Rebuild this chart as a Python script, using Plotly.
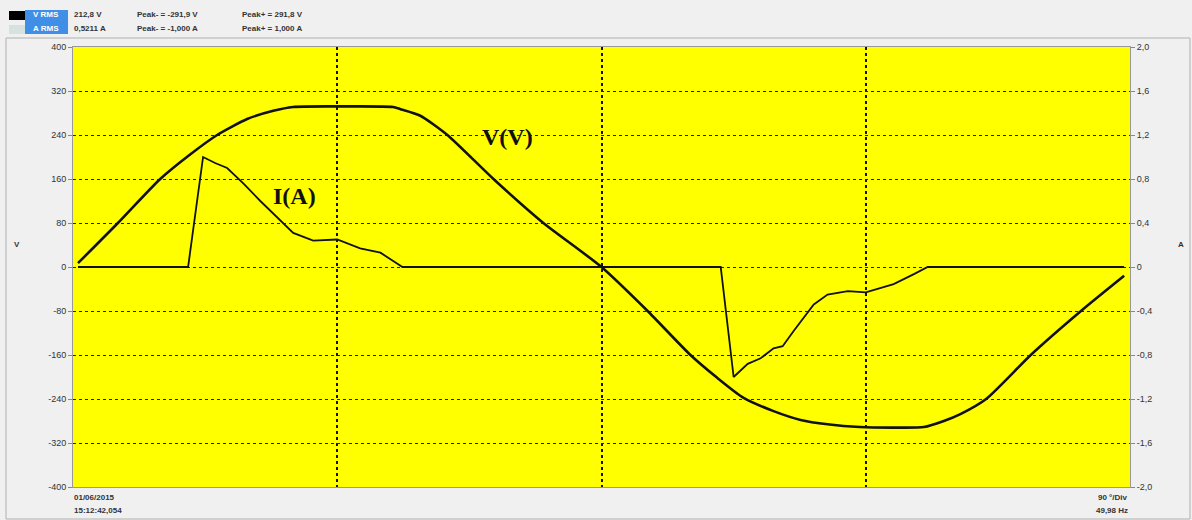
import plotly.graph_objects as go

# Phase angle (degrees) and voltage samples of the clipped sine
v_deg = [1.7, 15.3, 29.7, 40.0, 49.1, 59.3, 68.2, 75.0, 90.0, 109.0, 111.5, 118.3, 127.5,
         143.2, 160.2, 180.0, 195.7, 210.3, 219.3, 228.4, 238.6, 247.8, 257.0, 268.0,
         280.0, 289.8, 296.6, 302.4, 311.0, 326.2, 343.3, 358.0]
v_val = [7, 80, 160, 205, 240, 269, 284, 291, 292, 291, 287, 275, 240,
         160, 80, 0, -80, -160, -201, -238, -262, -278, -286, -291,
         -292, -291, -280, -267, -240, -160, -80, -16]

# Phase angle (degrees) and current samples (pulsed rectifier current)
i_deg = [1.7, 39.2, 44.3, 45.7, 48.4, 52.5, 58.0, 63.8, 69.5, 75.0, 81.8, 90.0,
         97.8, 104.7, 110.5, 112.2, 220.6, 225.0, 229.8, 234.2, 238.6, 241.7,
         245.5, 252.3, 257.0, 263.9, 270.0, 279.5, 286.4, 291.1, 358.0]
i_amp = [0, 0, 1.0, 0.98, 0.945, 0.90, 0.76, 0.60, 0.45, 0.31, 0.24, 0.25,
         0.17, 0.13, 0.03, 0, 0, -1.0, -0.88, -0.83, -0.74, -0.72,
         -0.58, -0.34, -0.25, -0.22, -0.23, -0.155, -0.065, 0, 0]

v_ticks = [400, 320, 240, 160, 80, 0, -80, -160, -240, -320, -400]
v_ticktext = ["400", "320", "240", "160", "80", "0", "-80", "-160", "-240", "-320", "-400"]
i_ticks = [2.0, 1.6, 1.2, 0.8, 0.4, 0, -0.4, -0.8, -1.2, -1.6, -2.0]
i_ticktext = ["2,0", "1,6", "1,2", "0,8", "0,4", "0", "-0,4", "-0,8", "-1,2", "-1,6", "-2,0"]

header_rows = [
    ("V RMS", "212,8 V", "Peak- = -291,9 V", "Peak+ = 291,8 V"),
    ("A RMS", "0,5211 A", "Peak- = -1,000 A", "Peak+ = 1,000 A"),
]

W, H = 1192, 520
L, R, T, B = 73, 1130, 47, 487


def px(x):
    return (x - L) / (R - L)


def py(y):
    return (B - y) / (B - T)


fig = go.Figure()
fig.add_trace(go.Scatter(x=v_deg, y=v_val, mode="lines", name="V(V)",
                         line=dict(color="#111", width=2.6, shape="spline", smoothing=0.6)))
fig.add_trace(go.Scatter(x=i_deg, y=i_amp, mode="lines", name="I(A)", yaxis="y2",
                         line=dict(color="#111", width=1.8)))

tickfont = dict(family="Liberation Sans, Arial", size=9, color="#333")
small = dict(family="Liberation Sans, Arial", size=8, color="#333")

fig.update_layout(
    width=W, height=H,
    margin=dict(l=L, r=W - R, t=T, b=H - B),
    paper_bgcolor="#f0f0f0",
    plot_bgcolor="#ffff00",
    showlegend=False,
    xaxis=dict(range=[0, 360], tickvals=[90, 180, 270], showticklabels=False,
               showgrid=True, gridcolor="#111", griddash="dot", gridwidth=1.6,
               zeroline=False, showline=True, linecolor="#999", mirror=True, ticks=""),
    yaxis=dict(range=[-400, 400], tickvals=v_ticks, ticktext=v_ticktext,
               showgrid=True, gridcolor="#222", griddash="dot", gridwidth=1.3,
               zeroline=False, showline=True, linecolor="#999",
               ticks="outside", ticklen=4, tickcolor="#888", tickfont=tickfont),
    yaxis2=dict(range=[-2, 2], tickvals=i_ticks, ticktext=i_ticktext, overlaying="y",
                side="right", showgrid=False, zeroline=False, showline=True, linecolor="#999",
                ticks="outside", ticklen=4, tickcolor="#888", tickfont=tickfont),
)

shapes = [
    # outer panel frame
    dict(type="rect", xref="paper", yref="paper", x0=px(6), x1=px(1190), y0=py(519), y1=py(38),
         line=dict(color="#b0b0b0", width=1), layer="below"),
    # legend swatches
    dict(type="rect", xref="paper", yref="paper", x0=px(9), x1=px(25), y0=py(20), y1=py(11),
         fillcolor="#000", line=dict(width=0)),
    dict(type="rect", xref="paper", yref="paper", x0=px(9), x1=px(25), y0=py(34), y1=py(25),
         fillcolor="#d6e2e0", line=dict(width=0)),
    dict(type="rect", xref="paper", yref="paper", x0=px(25), x1=px(68), y0=py(34), y1=py(10),
         fillcolor="#3f8fe6", line=dict(width=0)),
]
fig.update_layout(shapes=shapes)

annotations = []
for row, (lab, rms, pk_lo, pk_hi) in enumerate(header_rows):
    yc = py(15 + 14 * row)
    annotations.append(dict(x=px(46), y=yc, text="<b>" + lab + "</b>", showarrow=False,
                            xref="paper", yref="paper", xanchor="center", yanchor="middle",
                            font=dict(family="Liberation Sans, Arial", size=8, color="#ffffff")))
    for xpos, txt in ((72, rms), (135, pk_lo), (240, pk_hi)):
        annotations.append(dict(x=px(xpos), y=yc, text="<b>" + txt + "</b>", showarrow=False,
                                xref="paper", yref="paper", xanchor="left", yanchor="middle",
                                font=small))

annotations += [
    dict(x=148, y=236, xref="x", yref="y", text="<b>V(V)</b>", showarrow=False,
         font=dict(family="Liberation Serif, Times New Roman", size=24, color="#111")),
    dict(x=75.5, y=130, xref="x", yref="y", text="<b>I(A)</b>", showarrow=False,
         font=dict(family="Liberation Serif, Times New Roman", size=24, color="#111")),
    dict(x=px(12), y=py(244), xref="paper", yref="paper", text="<b>V</b>", showarrow=False,
         font=small),
    dict(x=px(1186), y=py(244), xref="paper", yref="paper", text="<b>A</b>", showarrow=False,
         font=small),
    dict(x=px(72), y=py(497), xref="paper", yref="paper", text="<b>01/06/2015</b>",
         showarrow=False, xanchor="left", yanchor="middle", font=small),
    dict(x=px(72), y=py(510), xref="paper", yref="paper", text="<b>15:12:42,054</b>",
         showarrow=False, xanchor="left", yanchor="middle", font=small),
    dict(x=px(1130), y=py(497), xref="paper", yref="paper", text="<b>90 °/Div</b>",
         showarrow=False, xanchor="right", yanchor="middle", font=small),
    dict(x=px(1130), y=py(510), xref="paper", yref="paper", text="<b>49,98 Hz</b>",
         showarrow=False, xanchor="right", yanchor="middle", font=small),
]
fig.update_layout(annotations=annotations)

fig.write_html("out.html")
